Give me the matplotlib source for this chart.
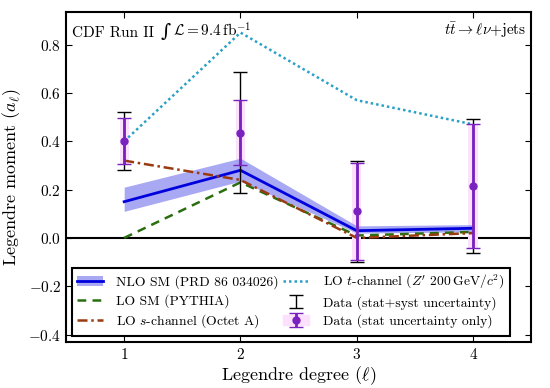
import numpy as np
import matplotlib.pyplot as plt
from matplotlib.patches import Patch
from matplotlib.legend_handler import HandlerTuple

plt.rcParams.update({
    "font.family": ["cmr10", "DejaVu Serif"],
    "mathtext.fontset": "cm",
    "axes.formatter.use_mathtext": True,
    "font.size": 11,
})

# ----------------------------------------------------
# DATA
# ----------------------------------------------------
degree = [1, 2, 3, 4]

nlo_sm = [0.15, 0.28, 0.03, 0.04]
nlo_lo = [0.11, 0.235, 0.02, 0.025]
nlo_hi = [0.21, 0.33, 0.05, 0.055]

lo_sm = [0.0, 0.23, 0.01, 0.025]
lo_s_channel = [0.32, 0.24, 0.0, 0.02]
lo_t_channel = [0.40, 0.85, 0.57, 0.47]

data_val = [0.40, 0.435, 0.11, 0.215]
data_stat = [0.095, 0.135, 0.20, 0.255]
data_tot = [0.12, 0.25, 0.21, 0.278]

# ----------------------------------------------------
# PLOT
# ----------------------------------------------------
fig = plt.figure(figsize=(5.5, 3.88), dpi=100)
ax = fig.add_axes([0.12, 0.119, 0.846, 0.85])

ax.axhline(0, color="black", lw=1.5, zorder=1)

band = ax.fill_between(degree, nlo_lo, nlo_hi, color="#8c8cf0", alpha=0.75, lw=0, zorder=2)
l_nlo, = ax.plot(degree, nlo_sm, color="#0000dd", lw=2, zorder=3)
l_lo, = ax.plot(degree, lo_sm, color="#2a6e10", lw=1.8, ls=(0, (3.5, 2.5)), zorder=3)
l_s, = ax.plot(degree, lo_s_channel, color="#9a3a10", lw=1.8, ls=(0, (4, 1.5, 1, 1.5)), zorder=3)
l_t, = ax.plot(degree, lo_t_channel, color="#2aa0c8", lw=1.8, ls=(0, (1, 1.2)), zorder=3)

# pale boxes behind the stat error bars
for x, v, s in zip(degree, data_val, data_stat):
    ax.fill_between([x - 0.04, x + 0.04], v - s, v + s, color="#fce0fc", lw=0, zorder=1.5)

e_tot = ax.errorbar(degree, data_val, yerr=data_tot, fmt="none", ecolor="black",
                    elinewidth=1, capsize=5, capthick=1, zorder=4)
e_stat = ax.errorbar(degree, data_val, yerr=data_stat, fmt="o", color="#7a22c0",
                     ms=5, elinewidth=2, capsize=5, capthick=1, zorder=5)

ax.set_xlim(0.5, 4.5)
ax.set_ylim(-0.43, 0.935)
ax.set_xticks(degree)
ax.set_yticks(np.arange(-0.4, 0.81, 0.2))
ax.tick_params(direction="in", top=True, right=True, length=4, labelsize=11)
for sp in ax.spines.values():
    sp.set_linewidth(1.5)

ax.set_xlabel(r"Legendre degree $(\ell)$", fontsize=13, labelpad=2)
ax.set_ylabel(r"Legendre moment $(a_\ell)$", fontsize=13)

# top-left label built from pieces on a common baseline so the
# integral sign stays text sized
renderer = fig.canvas.get_renderer()
inv = ax.transAxes.inverted()
y_base = 0.925
x_pos = 0.012
pieces = [
    ("CDF Run II ", {"fontsize": 11}),
    ("\u222b", {"fontsize": 14, "family": ["DejaVu Serif", "DejaVu Sans"]}),
    (r"$\mathcal{L} = 9.4\,\mathrm{fb}^{-1}$", {"fontsize": 11}),
]
for txt, kw in pieces:
    t = ax.text(x_pos, y_base, txt, transform=ax.transAxes, ha="left",
                va="baseline", **kw)
    bb = t.get_window_extent(renderer)
    x_pos = inv.transform((bb.x1, bb.y0))[0] + 0.004

ax.text(0.99, 0.975, r"$t\bar{t}\rightarrow\ell\nu$+jets",
        transform=ax.transAxes, ha="right", va="top", fontsize=11)

stat_handle = (Patch(color="#fce0fc"), e_stat)
handles = [(band, l_nlo), l_lo, l_s, l_t, e_tot, stat_handle]
labels = [
    "NLO SM (PRD 86 034026)",
    "LO SM (PYTHIA)",
    r"LO $s$-channel (Octet A)",
    r"LO $t$-channel ($Z'$ 200$\,\mathrm{GeV}/c^2$)",
    "Data (stat+syst uncertainty)",
    "Data (stat uncertainty only)",
]
leg = ax.legend(handles, labels, ncol=2, loc="lower left", bbox_to_anchor=(0.006, 0.01),
                frameon=True, fancybox=False, edgecolor="black", fontsize=9.8,
                handlelength=1.9, columnspacing=0.3, labelspacing=0.35,
                borderpad=0.4, handletextpad=1.0, borderaxespad=0.2,
                handler_map={tuple: HandlerTuple(ndivide=1)})
leg.get_frame().set_linewidth(1.5)
leg.get_frame().set_alpha(1)

plt.savefig("out.png")
